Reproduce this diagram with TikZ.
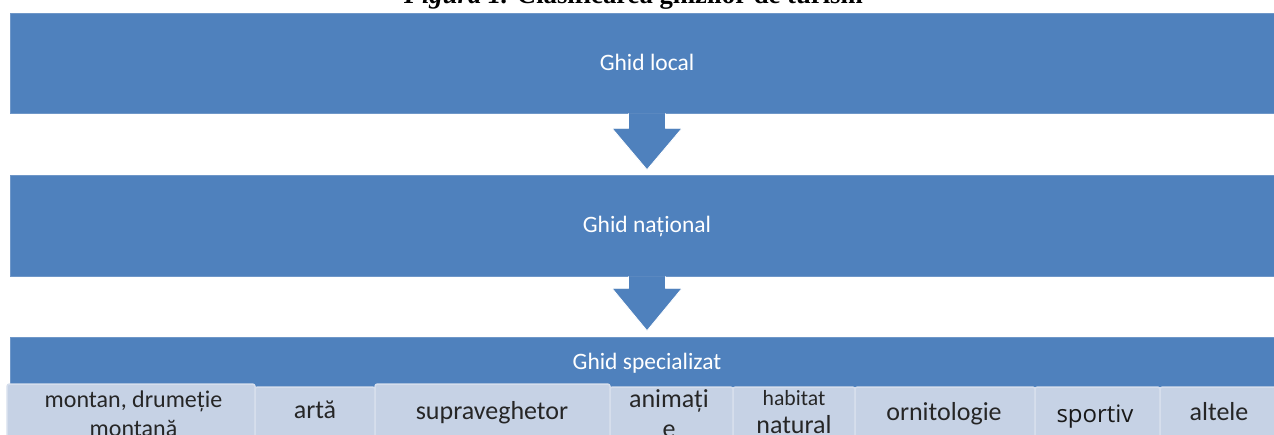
\documentclass[tikz,border=0pt]{standalone}
\usepackage{fontspec}
\setmainfont{Carlito}
\newfontfamily\titlefont{Liberation Serif}
\newfontfamily\osans{Open Sans}
\usetikzlibrary{calc}
\definecolor{accent}{HTML}{4F81BD}
\definecolor{accentedge}{HTML}{6F97C8}
\definecolor{lightbox}{HTML}{C6D2E5}
\definecolor{sepline}{HTML}{D6DEEC}
\definecolor{darktext}{HTML}{262626}
\tikzset{
  bigbox/.style={rectangle, fill=accent, draw=accentedge, line width=0.6pt, inner sep=0pt},
  bigtext/.style={text=white, font=\fontsize{23.5}{28}\selectfont, anchor=base, inner sep=0pt},
  catbox/.style={rectangle, fill=lightbox, draw=sepline, line width=1.5pt, rounded corners=2.5pt, inner sep=0pt},
  cattext/.style={text=darktext, font=\fontsize{26}{29}\selectfont, anchor=base, inner sep=0pt},
  downarrow/.style={fill=accent, draw=white, line width=0.8pt, line join=miter},
}
\begin{document}
\begin{tikzpicture}[x=1pt,y=-1pt]
\useasboundingbox (0,0) rectangle (1274,434);
\clip (0,0) rectangle (1274,434);

% title (cut off at the top)
\node[anchor=base, inner sep=0pt, font=\titlefont\fontsize{26.7}{30}\selectfont] (title) at (633.5,3.5)
  {\textbf{\textit{Figura 1.}} \textbf{Clasificarea ghizilor de turism}};

% big boxes
\node[bigbox, minimum width=1274pt, minimum height=100pt] (local) at (647,63) {};
\node[bigbox, minimum width=1274pt, minimum height=101pt] (national) at (647,225.5) {};
\node[bigbox, minimum width=1274pt, minimum height=103pt] (special) at (647,388.5) {};

\node[bigtext] (tlocal) at (647,70) {Ghid local};
\node[bigtext] (tnational) at (647,232) {Ghid național};
\node[bigtext] (tspecial) at (647,369) {Ghid specializat};

% arrows
\filldraw[downarrow] ($(local.south)+(-18.5,0)$) -- ($(local.south)+(-18.5,15)$) -- ($(local.south)+(-35,15)$)
  -- ($(national.north)+(0,-5)$) -- ($(local.south)+(35,15)$) -- ($(local.south)+(18.5,15)$) -- ($(local.south)+(18.5,0)$);
\filldraw[downarrow] ($(national.south)+(-18.5,0)$) -- ($(national.south)+(-18.5,12)$) -- ($(national.south)+(-35,12)$)
  -- ($(special.north)+(0,-6)$) -- ($(national.south)+(35,12)$) -- ($(national.south)+(18.5,12)$) -- ($(national.south)+(18.5,0)$);

% category boxes
\node[catbox, minimum width=248pt, minimum height=56pt] (c1) at (131,412) {};
\node[catbox, minimum width=120pt, minimum height=53pt] (c2) at (315,413.5) {};
\node[catbox, minimum width=235pt, minimum height=56pt] (c3) at (492.5,412) {};
\node[catbox, minimum width=123pt, minimum height=53pt] (c4) at (671.5,413.5) {};
\node[catbox, minimum width=122pt, minimum height=53pt] (c5) at (794,413.5) {};
\node[catbox, minimum width=180pt, minimum height=53pt] (c6) at (945,413.5) {};
\node[catbox, minimum width=125pt, minimum height=53pt] (c7) at (1097.5,413.5) {};
\node[catbox, minimum width=120pt, minimum height=53pt] (c8) at (1220,413.5) {};

% category texts
\node[cattext, font=\fontsize{24}{28}\selectfont] (t1a) at (133.5,407) {montan, drumeție};
\node[cattext, font=\fontsize{24}{28}\selectfont] (t1b) at (133.5,436) {montană};
\node[cattext] (t2) at (315,418) {artă};
\node[cattext] (t3) at (492,419) {supraveghetor};
\node[cattext] (t4a) at (669,407) {animați};
\node[cattext] (t4b) at (669,437) {e};
\node[cattext, font=\fontsize{21.7}{26}\selectfont] (t5a) at (794,405) {habitat};
\node[cattext] (t5b) at (794,433) {natural};
\node[cattext] (t6) at (944,420) {ornitologie};
\node[cattext, text=black!90, font=\osans\fontsize{24}{28}\selectfont] (t7) at (1095,422) {sportiv};
\node[cattext] (t8) at (1219,420) {altele};
\end{tikzpicture}
\end{document}
